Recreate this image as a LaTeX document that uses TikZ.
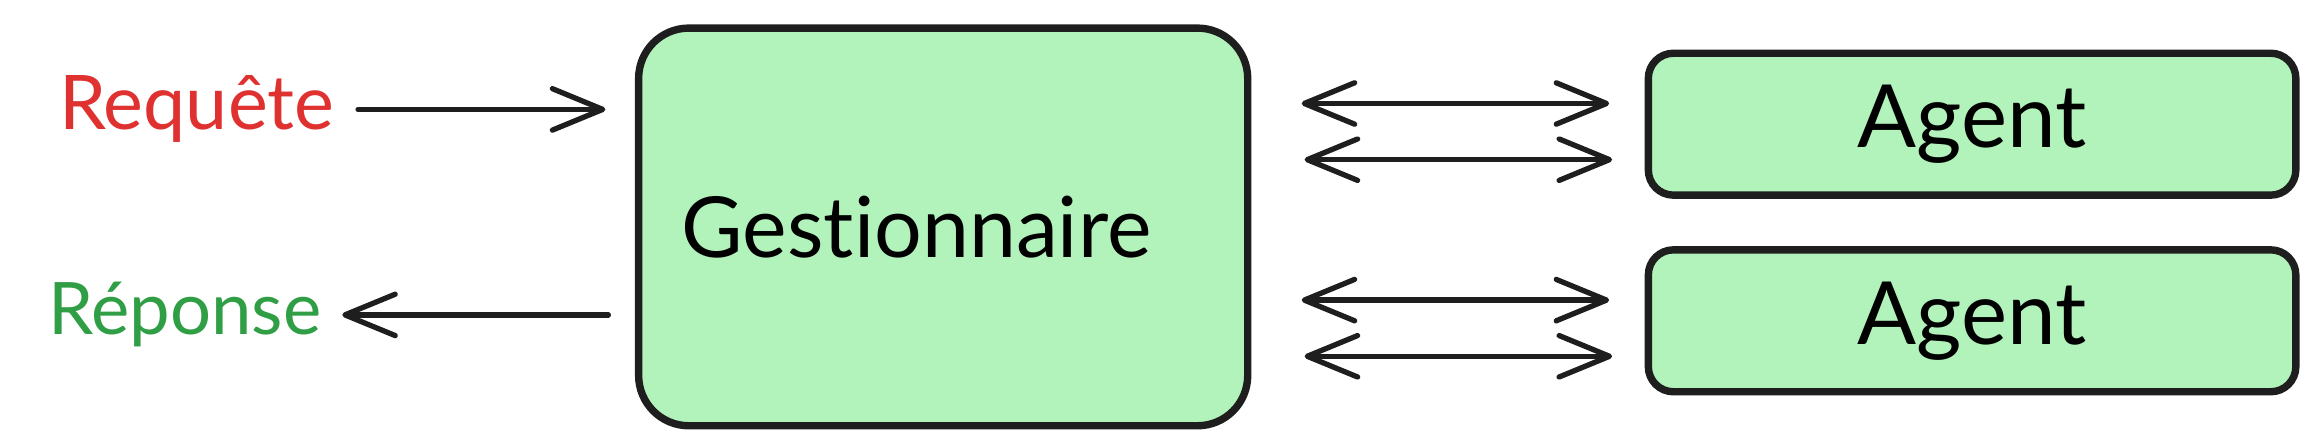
\documentclass[tikz,border=0pt]{standalone}
\usepackage{fontspec}
\setmainfont{Lato}[Ligatures=NoCommon]
\usetikzlibrary{arrows.meta}
\usetikzlibrary{positioning}
\definecolor{boxfill}{HTML}{B2F2BB}
\definecolor{ink}{HTML}{1E1E1E}
\definecolor{reqred}{HTML}{E03131}
\definecolor{repgreen}{HTML}{2F9E44}
\tikzset{bigbox/.style = {draw=ink, fill=boxfill, line width=5pt, rounded corners=34pt, font=\fontsize{57}{62}\selectfont}}
\tikzset{agentbox/.style = {draw=ink, fill=boxfill, line width=5pt, rounded corners=17pt, minimum width=438pt, minimum height=96pt, font=\fontsize{59}{64}\selectfont}}
\tikzset{label/.style = {inner sep=0, font=\fontsize{51}{58}\selectfont}}
\tikzset{link/.style = {draw=ink, line width=3.6pt, line cap=round}}
\tikzset{tip/.style = {-{Straight Barb[length=34pt, width=28pt, round]}}}
\tikzset{bothtips/.style = {{Straight Barb[length=34pt, width=28pt, round]}-{Straight Barb[length=34pt, width=28pt, round]}}}

\begin{document}
\begin{tikzpicture}[x=1pt, y=-1pt]
    \useasboundingbox (0, 0) rectangle (1568, 303);

    \node [bigbox, minimum width=412pt, minimum height=269pt] (gest) at (638, 153.5) {Gestionnaire\kern36pt};
    \node [agentbox] (agentA) at (1334, 84) {Agent};
    \node [agentbox] (agentB) at (1334, 217) {Agent};

    \node [label, text=reqred] (req) at (133, 74) {Requête};
    \node [label, text=repgreen, font=\fontsize{49}{56}\selectfont] (resp) at (125, 213) {Réponse};

    % in and out
    \draw [link, tip, shorten <=16pt, shorten >=20pt] (req.east) -- (req.east -| gest.west);
    \draw [link, tip, shorten <=18pt, shorten >=14pt] (resp.east -| gest.west) -- (resp.east);

    % to and from each agent
    \foreach \ag in {agentA, agentB} {
      \draw [link, bothtips, shorten <=34pt, shorten >=24pt] ([yshift=14pt]\ag.west -| gest.east) -- ([yshift=14pt]\ag.west);
      \draw [link, bothtips, shorten <=36pt, shorten >=22pt] ([yshift=-24pt]\ag.west -| gest.east) -- ([yshift=-24pt]\ag.west);
    }
  \end{tikzpicture}
\end{document}
